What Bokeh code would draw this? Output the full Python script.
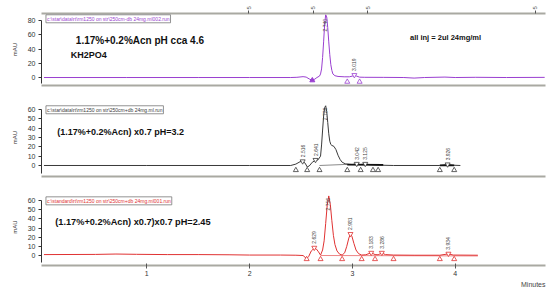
import math
from bokeh.plotting import figure
from bokeh.layouts import column
from bokeh.models import Range1d, LinearAxis, FixedTicker, Label, Title, CustomJSTickFormatter
from bokeh.core.properties import value
from bokeh.embed import file_html
from bokeh.resources import INLINE

# ---------------- data ----------------
# top trace: 1.17%+0.2%Acn pH cca 4.6 (purple)
top_t = [0.0, 0.8, 1.5, 2.0, 2.40, 2.46, 2.52, 2.55, 2.58, 2.61, 2.635, 2.655, 2.68, 2.69, 2.70, 2.71,
         2.72, 2.73, 2.74, 2.75, 2.76, 2.77, 2.78, 2.79, 2.80, 2.81, 2.83, 2.86, 2.92, 2.97, 3.00,
         3.019, 3.04, 3.07, 3.12, 3.30, 3.50, 3.60, 3.70, 3.90, 4.00, 4.20, 4.50, 4.87]
top_v = [0.0, 0.0, 0.0, 0.0, 0.0, 0.3, 1.2, 0.6, -2.0, -4.0, -2.2, 0.0, 2.0, 5.0, 12.0, 28.0,
         50.0, 75.0, 88.0, 85.0, 70.0, 50.0, 32.0, 18.0, 10.0, 5.0, 2.5, 1.5, 1.0, 1.0, 2.0,
         3.0, 2.0, 0.5, 0.3, 0.2, 0.0, -0.8, 0.0, 0.6, 0.0, 0.3, 0.0, 0.2]
top_pk_t = [3.019]
top_pk_v = [3.5]
top_pk_lbl = ["3.019"]
top_main_t = [2.740]
top_main_lbl = ["2.740"]
top_main_v = [88.0]
top_base_t = [2.95, 3.07]
top_dip_t = [2.61]
top_dip_v = [-4.0]
top_events = [1.99, 2.62, 3.15, 4.78]

# middle trace: (1.17%+0.2%Acn) x0.7 pH=3.2 (black)
mid_t = [0.0, 1.0, 2.0, 2.40, 2.45, 2.49, 2.516, 2.54, 2.56, 2.58, 2.61, 2.641, 2.665, 2.69, 2.70,
         2.71, 2.72, 2.73, 2.74, 2.75, 2.76, 2.77, 2.78, 2.79, 2.80, 2.82, 2.84, 2.86, 2.88, 2.90,
         2.93, 2.97, 3.00, 3.042, 3.08, 3.125, 3.17, 3.25, 3.40, 3.85, 3.926, 3.98, 4.05]
mid_v = [0.0, 0.0, 0.0, 0.0, 1.5, 4.0, 4.5, 2.5, -1.5, -0.5, 3.5, 5.5, 6.0, 10.0, 22.0,
         38.0, 53.0, 62.0, 64.0, 58.0, 46.0, 34.0, 26.0, 22.5, 21.5, 20.5, 17.0, 11.0, 6.5, 3.5,
         1.8, 1.2, 1.0, 1.8, 1.0, 1.8, 0.8, 0.4, 0.0, 0.0, 1.2, 0.3, 0.0]
mid_pk_t = [2.516, 2.641, 3.042, 3.125, 3.926]
mid_pk_v = [4.5, 6.0, 1.8, 1.8, 1.2]
mid_pk_lbl = ["2.516", "2.641", "3.042", "3.125", "3.926"]
mid_main_t = [2.740]
mid_main_v = [64.0]
mid_main_lbl = ["2.726"]
mid_base_t = [2.45, 2.56, 2.68, 2.95, 3.08, 3.20, 3.25, 3.85, 3.99]

# bottom trace: (1.17%+0.2%Acn) x0.7)x0.7 pH=2.45 (red)
bot_t = [0.0, 0.5, 0.7, 0.9, 1.2, 1.5, 1.8, 2.0, 2.3, 2.45, 2.52, 2.555, 2.575, 2.60, 2.629, 2.65,
         2.67, 2.69, 2.71, 2.725, 2.74, 2.755, 2.77, 2.785, 2.80, 2.815, 2.83, 2.85, 2.875, 2.90,
         2.925, 2.945, 2.965, 2.981, 2.995, 3.015, 3.035, 3.06, 3.09, 3.13, 3.183, 3.22, 3.25,
         3.286, 3.32, 3.40, 3.60, 3.85, 3.934, 3.98, 4.22]
bot_v = [1.0, 1.2, 1.6, 1.3, 1.0, 1.0, 0.8, 0.5, 0.5, 0.3, 0.0, -3.5, -1.0, 5.0, 8.0, 7.0,
         4.0, 0.5, 6.0, 16.0, 35.0, 55.0, 65.0, 56.0, 38.0, 22.0, 12.0, 5.0, 1.5, 0.5,
         3.0, 10.0, 19.0, 23.5, 21.0, 13.0, 6.0, 2.0, 0.5, 0.8, 3.0, 1.0, 0.8,
         2.8, 1.0, 0.5, 0.3, 0.3, 1.8, 0.5, 0.3]
bot_pk_t = [2.629, 2.981, 3.183, 3.286, 3.934]
bot_pk_v = [8.5, 23.5, 3.0, 3.0, 2.0]
bot_pk_lbl = ["2.629", "2.981", "3.183", "3.286", "3.934"]
bot_main_t = [2.770]
bot_main_v = [65.0]
bot_main_lbl = ["2.756"]
bot_base_t = [2.555, 2.69, 2.90, 3.09, 3.22, 3.40, 3.85, 3.99]

x_ticks = [1, 2, 3, 4]
top_yticks = [0, 20, 40, 60, 80]
mid_yticks = [0, 10, 20, 30, 40, 50, 60]

PURPLE = "#9a3fd0"
BLACK = "#3a3a3a"
RED = "#e03232"
GRAY = "#a9a9a2"
FONT = "Liberation Sans"

XR = Range1d(-0.024, 4.878)


def make_panel(height, yr, yticks, border_top, border_bottom):
    p = figure(width=550, height=height, x_range=XR, y_range=Range1d(*yr),
               output_backend="svg", toolbar_location=None,
               min_border_left=41, min_border_right=5,
               min_border_top=border_top, min_border_bottom=border_bottom,
               x_axis_location=None, y_axis_location=None)
    p.grid.visible = False
    p.outline_line_color = None
    p.background_fill_color = "white"
    p.border_fill_color = "white"
    ya = LinearAxis(ticker=FixedTicker(ticks=yticks), bounds=(yr[0] + 3, yticks[-1]))
    ya.axis_label = "mAU"
    ya.axis_label_text_font = FONT
    ya.axis_label_text_font_size = "6px"
    ya.axis_label_text_font_style = "normal"
    ya.axis_label_text_color = "#333333"
    ya.axis_label_standoff = 7
    ya.major_label_text_font = FONT
    ya.major_label_text_font_size = "7px"
    ya.major_label_text_color = "#333333"
    ya.major_label_standoff = 3
    ya.major_tick_in = 0
    ya.major_tick_out = 3
    ya.minor_tick_line_color = None
    ya.axis_line_color = "#333333"
    ya.major_tick_line_color = "#333333"
    p.add_layout(ya, "left")
    return p


def gray_axis(p, where, ticks=None, labels=True):
    ax = LinearAxis(ticker=FixedTicker(ticks=ticks or []))
    ax.axis_line_color = GRAY
    ax.axis_line_width = 2
    ax.minor_tick_line_color = None
    if not labels:
        ax.major_label_text_font_size = "0px"
        ax.major_tick_line_color = None
    p.add_layout(ax, where)
    return ax


def peaks(p, t, v, lbl, color):
    p.scatter(t, v, marker="inverted_triangle", size=5, fill_color="white",
              line_color=color, line_width=0.8)
    p.text(t, v, text=lbl, angle=math.pi / 2, text_font=value(FONT),
           text_font_size="5px", text_color="#444444", text_align="left",
           text_baseline="middle", y_offset=-4)


def mains(p, t, v, lbl):
    p.text(t, v, text=lbl, angle=math.pi / 2, text_font=value(FONT),
           text_font_size="5px", text_color="#444444", text_align="right",
           text_baseline="middle", x_offset=-1, y_offset=2)


def bases(p, t, y, color):
    p.scatter(t, [y] * len(t), marker="triangle", size=5, fill_color="white",
              line_color=color, line_width=0.8)


def bold(p, x, y, text, size="10px"):
    p.add_layout(Label(x=x, y=y, text=text, text_font=FONT, text_font_size=size,
                       text_font_style="bold", text_color="#111111",
                       text_baseline="middle", text_align="left"))


def filebox(p, x, y, text, color):
    p.add_layout(Label(x=x, y=y, text=text, text_font=FONT, text_font_size="5px",
                       text_color=color, text_baseline="top", text_align="left",
                       border_line_color="#777777", border_line_width=0.8,
                       background_fill_color="white", padding=1, x_offset=2))


# ---------------- top panel ----------------
p1 = make_panel(88, (-11.2, 89.8), top_yticks, 13, 3)
ev = gray_axis(p1, "above", ticks=top_events)
ev.formatter = CustomJSTickFormatter(code="return '5'")
ev.major_label_orientation = math.pi / 2
ev.major_label_text_font_size = "6px"
ev.major_label_text_color = "#555555"
ev.major_tick_out = 3
ev.major_tick_in = 0
ev.major_label_standoff = 1
ev.major_tick_line_color = "#555555"
gray_axis(p1, "below", labels=False)
p1.line(top_t, top_v, line_color=PURPLE, line_width=1)
peaks(p1, top_pk_t, top_pk_v, top_pk_lbl, PURPLE)
mains(p1, top_main_t, [85], top_main_lbl)
bases(p1, top_base_t, -6, PURPLE)
p1.scatter(top_dip_t, top_dip_v, marker="triangle", size=5, color=PURPLE)
filebox(p1, 0.0, 88, "c:\\star\\data\\rt\\rm1250 on str\\250cm-db 24mg.ml002.run", PURPLE)
bold(p1, 0.31, 52, "1.17%+0.2%Acn pH cca 4.6")
bold(p1, 0.26, 31, "KH2PO4", size="9px")
bold(p1, 3.56, 56, "all inj = 2ul 24mg/ml", size="7.5px")

# ---------------- middle panel ----------------
p2 = make_panel(90, (-11.8, 71.8), mid_yticks, 10, 2)
gray_axis(p2, "below", labels=False)
p2.line(mid_t, mid_v, line_color=BLACK, line_width=1)
p2.line([2.68, 2.95], [0.0, 1.2], line_color=BLACK, line_width=0.6)
p2.line([2.95, 3.30], [1.0, 0.6], line_color="#111111", line_width=1.8)
p2.line([3.85, 3.99], [0.2, 0.2], line_color="#111111", line_width=1.8)
peaks(p2, mid_pk_t, mid_pk_v, mid_pk_lbl, BLACK)
mains(p2, mid_main_t, mid_main_v, mid_main_lbl)
bases(p2, mid_base_t, -5, BLACK)
filebox(p2, 0.0, 64, "c:\\star\\data\\rt\\rm1250 on str\\250cm+db 24mg.ml.run", BLACK)
bold(p2, 0.13, 36, "(1.17%+0.2%Acn) x0.7 pH=3.2", size="9px")

# ---------------- bottom panel ----------------
p3 = make_panel(109, (-10.9, 73.1), mid_yticks, 10, 22)
xa = gray_axis(p3, "below", ticks=x_ticks)
xa.major_label_text_font = FONT
xa.major_label_text_font_size = "7px"
xa.major_label_text_color = "#333333"
xa.major_tick_in = 2
xa.major_tick_out = 3
xa.major_tick_line_color = "#555555"
xa.major_label_standoff = 2
p3.add_layout(Title(text="Minutes", align="right", text_font=FONT, text_font_size="7px",
                    text_font_style="normal", text_color="#444444", standoff=0), "below")
p3.line(bot_t, bot_v, line_color=RED, line_width=1)
p3.line([2.69, 4.22], [0.0, -0.5], line_color=RED, line_width=0.6)
peaks(p3, bot_pk_t, bot_pk_v, bot_pk_lbl, RED)
mains(p3, bot_main_t, bot_main_v, bot_main_lbl)
bases(p3, bot_base_t, -4, RED)
filebox(p3, 0.0, 64, "c:\\standard\\rt\\rm1250 on str\\250cm+db 24mg.ml001.run", RED)
bold(p3, 0.11, 37, "(1.17%+0.2%Acn) x0.7)x0.7  pH=2.45", size="9.2px")

layout = column(p1, p2, p3, spacing=0)
open("out.html", "w").write(file_html(layout, INLINE))
